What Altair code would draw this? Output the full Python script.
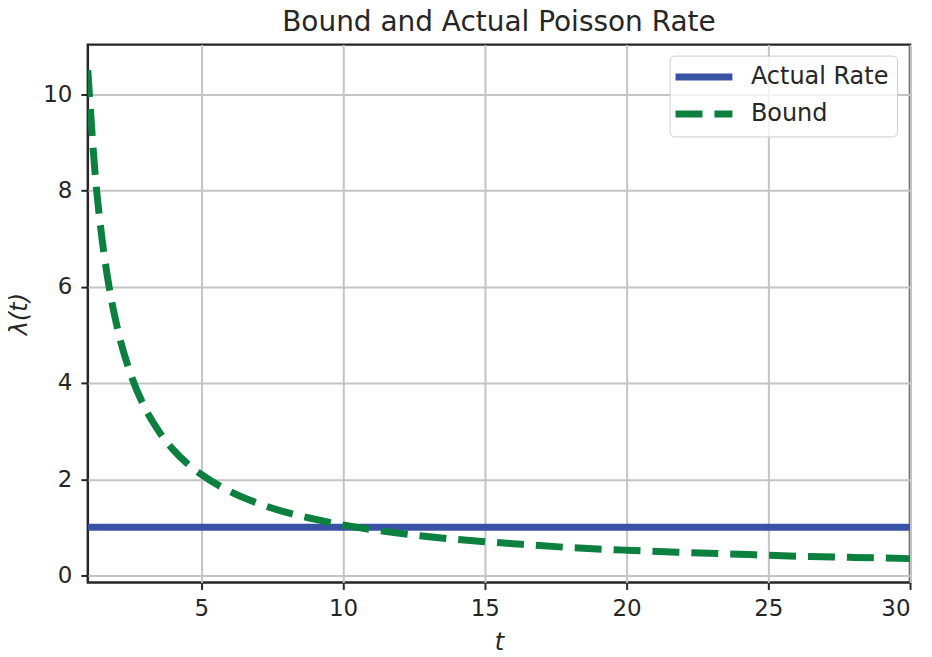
import altair as alt
import pandas as pd

# Bound curve
bound_t = [1, 1.25, 1.5, 1.75, 2, 2.5, 3, 3.5, 4, 4.5, 5, 6, 7, 8, 9, 10,
           12, 14, 16, 18, 20, 22, 24, 26, 28, 30]
bound_v = [10.5, 8.4, 7.0, 6.0, 5.25, 4.2, 3.5, 3.0, 2.62, 2.33, 2.1, 1.75, 1.5,
           1.31, 1.17, 1.05, 0.875, 0.75, 0.66, 0.58, 0.525, 0.48, 0.44, 0.40,
           0.375, 0.35]

# Actual rate (constant)
actual_t = [1, 30]
actual_v = [1.0, 1.0]

series_names = ["Actual Rate", "Bound"]
series_colors = ["#3953a4", "#0b803f"]

x_ticks = [5, 10, 15, 20, 25, 30]
y_ticks = [0, 2, 4, 6, 8, 10]

df = pd.concat([
    pd.DataFrame({"t": actual_t, "v": actual_v, "series": series_names[0], "o": range(len(actual_t))}),
    pd.DataFrame({"t": bound_t, "v": bound_v, "series": series_names[1], "o": range(len(bound_t))}),
])

FONT = "DejaVu Sans"
TXT = "#262626"

chart = alt.Chart(df).mark_line(strokeWidth=7, strokeCap="butt", interpolate="monotone", clip=True).encode(
    x=alt.X("t:Q", scale=alt.Scale(domain=[1, 30], nice=False, zero=False),
            axis=alt.Axis(values=x_ticks, title="t", titleFontStyle="italic", titleFontWeight="normal",
                          titleFontSize=24, titlePadding=10, labelFontSize=23, labelPadding=8)),
    y=alt.Y("v:Q", scale=alt.Scale(domain=[-0.145, 11.03], nice=False, zero=False),
            axis=alt.Axis(values=y_ticks, title="λ(t)", titleFontStyle="italic", titleFontWeight="normal",
                          titleFontSize=24, titlePadding=11, labelFontSize=23, labelPadding=9)),
    color=alt.Color("series:N", scale=alt.Scale(domain=series_names, range=series_colors),
                    legend=alt.Legend(title=None, orient="none", legendX=583, legendY=11,
                                      symbolType="M-3,0H3", symbolSize=361, symbolStrokeWidth=7,
                                      symbolOffset=13,
                                      labelFontSize=24, labelColor=TXT, labelFont=FONT, labelOffset=34,
                                      rowPadding=9, padding=8.5, fillColor="rgba(255,255,255,0.8)",
                                      strokeColor="#cccccc", cornerRadius=5)),
    strokeDash=alt.StrokeDash("series:N", scale=alt.Scale(domain=series_names, range=[[1, 0], [27, 12]]),
                              legend=None),
    order="o:Q",
).properties(
    width=824, height=539,
    title=alt.Title("Bound and Actual Poisson Rate", fontSize=28, font=FONT, color=TXT,
                    fontWeight="normal", anchor="middle", offset=8),
    autosize=alt.AutoSizeParams(type="none"),
    padding={"left": 80, "top": 36, "right": 14, "bottom": 70},
).configure_view(
    stroke=TXT, strokeWidth=2.5
).configure_axis(
    domain=False, grid=True, gridColor="#c4c4c4", gridWidth=2,
    tickColor=TXT, tickWidth=2, tickSize=7,
    labelFont=FONT, titleFont=FONT, labelColor=TXT, titleColor=TXT
)

chart.save("out.html", embed_options={"renderer": "svg", "actions": False})
